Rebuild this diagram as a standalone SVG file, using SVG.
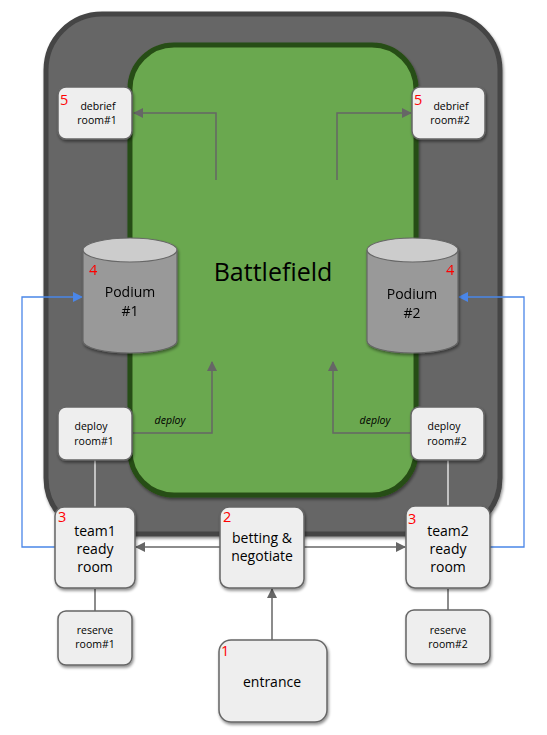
<svg xmlns="http://www.w3.org/2000/svg" width="547" height="735" viewBox="0 0 547 735">
<style>
.box{fill:#eeeeee;stroke:#666666;stroke-width:1.5;filter:url(#sh)}
.t{font-family:"Open Sans","DejaVu Sans",sans-serif;fill:#000;text-anchor:middle}
.s{font-size:10.5px}
.m{font-size:14px}
.n{font-family:"Open Sans","DejaVu Sans",sans-serif;fill:#ff0000;font-size:14.5px}
.c{fill:none;stroke:#666666;stroke-width:1.5}
.b{fill:none;stroke:#4a86e8;stroke-width:1.3}
.w{fill:none;stroke:#ffffff;stroke-width:1.2}
</style>
<defs>
<filter id="sh" x="-20%" y="-20%" width="150%" height="150%">
<feGaussianBlur in="SourceAlpha" stdDeviation="1.5"/>
<feOffset dx="1" dy="2" result="o"/>
<feComponentTransfer><feFuncA type="linear" slope="0.45"/></feComponentTransfer>
<feMerge><feMergeNode/><feMergeNode in="SourceGraphic"/></feMerge>
</filter>
<marker id="ag" markerWidth="10" markerHeight="10" refX="9" refY="5" orient="auto" markerUnits="userSpaceOnUse"><path d="M0,0 L10,5 L0,10 Z" fill="#666666"/></marker>
<marker id="ab" markerWidth="10" markerHeight="10" refX="9" refY="5" orient="auto" markerUnits="userSpaceOnUse"><path d="M0,0 L10,5 L0,10 Z" fill="#4a86e8"/></marker>
</defs>
<rect width="547" height="735" fill="#ffffff"/>
<g id="arena">
<rect x="46" y="14" width="454" height="520" rx="56" fill="#666666" stroke="#444444" stroke-width="5" filter="url(#sh)"/>
</g>
<g id="battlefield">
<rect x="130" y="45" width="286" height="450" rx="44" fill="#6aa84f" stroke="#274e13" stroke-width="5" filter="url(#sh)"/>
<text x="273" y="281" class="t" font-size="25">Battlefield</text>
</g>
<g id="connectors">
<polyline class="c" points="216,180 216,113 134,113" marker-end="url(#ag)"/>
<polyline class="c" points="337,180 337,113 411,113" marker-end="url(#ag)"/>
<polyline class="c" points="132,433 212,433 212,362" marker-end="url(#ag)"/>
<polyline class="c" points="411,433 333,433 333,362" marker-end="url(#ag)"/>
<text x="170" y="424" class="t" font-size="10.5" font-style="italic">deploy</text>
<text x="375" y="424" class="t" font-size="10.5" font-style="italic">deploy</text>
<line class="w" x1="95" y1="460" x2="95" y2="507"/>
<line class="w" x1="448" y1="460" x2="448" y2="507"/>
<line class="c" x1="95" y1="589" x2="95" y2="611"/>
<line class="c" x1="448" y1="589" x2="448" y2="610"/>
<polyline class="b" points="55,547 22,547 22,297 82,297" marker-end="url(#ab)"/>
<polyline class="b" points="490,547 524,547 524,297 459,297" marker-end="url(#ab)"/>
<line class="c" x1="220" y1="547" x2="136" y2="547" marker-end="url(#ag)"/>
<line class="c" x1="304" y1="547" x2="405" y2="547" marker-end="url(#ag)"/>
<line class="c" x1="272" y1="640" x2="272" y2="589" marker-end="url(#ag)"/>
</g>
<g id="debrief1">
<rect class="box" x="58" y="87" width="74" height="52" rx="8"/>
<text class="n" x="60" y="105">5</text>
<text class="t s" x="98" y="110">debrief</text>
<text class="t s" x="97" y="124">room#1</text>
</g>
<g id="debrief2">
<rect class="box" x="412" y="87" width="73" height="52" rx="8"/>
<text class="n" x="414" y="105">5</text>
<text class="t s" x="451" y="110">debrief</text>
<text class="t s" x="450" y="124">room#2</text>
</g>
<g id="podium1" filter="url(#sh)">
<path d="M83,250 L83,341 A47,12 0 0 0 177,341 L177,250" fill="#999999" stroke="#666666" stroke-width="1.2"/>
<ellipse cx="130" cy="250" rx="47" ry="12" fill="#cccccc" stroke="#666666" stroke-width="1.2"/>
<text class="n" x="89" y="275">4</text>
<text class="t m" x="130" y="297">Podium</text>
<text class="t m" x="130" y="316">#1</text>
</g>
<g id="podium2" filter="url(#sh)">
<path d="M367,250 L367,341 A45.5,12 0 0 0 458,341 L458,250" fill="#999999" stroke="#666666" stroke-width="1.2"/>
<ellipse cx="412.5" cy="250" rx="45.5" ry="12" fill="#cccccc" stroke="#666666" stroke-width="1.2"/>
<text class="n" x="446" y="275">4</text>
<text class="t m" x="412" y="299">Podium</text>
<text class="t m" x="412" y="318">#2</text>
</g>
<g id="deploy1">
<rect class="box" x="58" y="407" width="74" height="53" rx="8"/>
<text class="t s" x="91" y="430">deploy</text>
<text class="t s" x="94" y="445">room#1</text>
</g>
<g id="deploy2">
<rect class="box" x="411" y="407" width="73" height="53" rx="8"/>
<text class="t s" x="444" y="430">deploy</text>
<text class="t s" x="447" y="445">room#2</text>
</g>
<g id="team1">
<rect class="box" x="55" y="507" width="80" height="81" rx="9"/>
<text class="n" x="58" y="522">3</text>
<text class="t m" x="95" y="536">team1</text>
<text class="t m" x="95" y="554">ready</text>
<text class="t m" x="95" y="572">room</text>
</g>
<g id="betting">
<rect class="box" x="220" y="507" width="84" height="81" rx="9"/>
<text class="n" x="223" y="522">2</text>
<text class="t m" x="262" y="543">betting &amp;</text>
<text class="t m" x="262" y="561">negotiate</text>
</g>
<g id="team2">
<rect class="box" x="406" y="506" width="84" height="82" rx="9"/>
<text class="n" x="408" y="524">3</text>
<text class="t m" x="448" y="536">team2</text>
<text class="t m" x="448" y="554">ready</text>
<text class="t m" x="448" y="572">room</text>
</g>
<g id="reserve1">
<rect class="box" x="58" y="611" width="74" height="54" rx="8"/>
<text class="t s" x="95" y="634">reserve</text>
<text class="t s" x="95" y="648">room#1</text>
</g>
<g id="reserve2">
<rect class="box" x="406" y="610" width="84" height="54" rx="8"/>
<text class="t s" x="448" y="634">reserve</text>
<text class="t s" x="448" y="648">room#2</text>
</g>
<g id="entrance">
<rect class="box" x="219" y="640" width="108" height="82" rx="12"/>
<text class="n" x="221" y="656">1</text>
<text class="t m" x="272" y="687">entrance</text>
</g>
</svg>
